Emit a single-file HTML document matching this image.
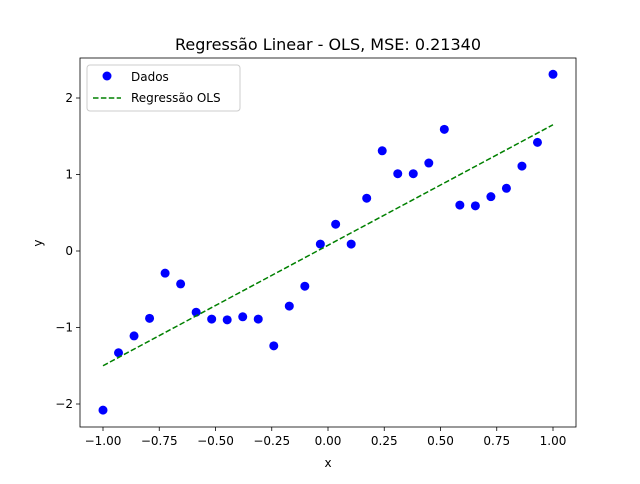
<!DOCTYPE html>
<html><head><meta charset="utf-8"><style>
body{margin:0;background:#fff;font-family:"DejaVu Sans","Liberation Sans",sans-serif;}
svg text{font-family:"DejaVu Sans","Liberation Sans",sans-serif;}
</style></head><body>
<svg id="chart" width="640" height="480" xmlns="http://www.w3.org/2000/svg"></svg>
<script>
const xs = [-1.0,-0.931,-0.862,-0.793,-0.724,-0.655,-0.586,-0.517,-0.448,-0.379,-0.310,-0.241,-0.172,-0.103,-0.034,0.034,0.103,0.172,0.241,0.310,0.379,0.448,0.517,0.586,0.655,0.724,0.793,0.862,0.931,1.0];
const ys = [-2.08,-1.33,-1.11,-0.88,-0.29,-0.43,-0.80,-0.89,-0.90,-0.86,-0.89,-1.24,-0.72,-0.46,0.09,0.35,0.09,0.69,1.31,1.01,1.01,1.15,1.59,0.60,0.59,0.71,0.82,1.11,1.42,2.31];
const lineX = [-1.0, 1.0];
const lineY = [-1.50, 1.65];
const xTicks = [-1.0,-0.75,-0.5,-0.25,0,0.25,0.5,0.75,1.0];
const xTickLabels = ["−1.00","−0.75","−0.50","−0.25","0.00","0.25","0.50","0.75","1.00"];
const yTicks = [-2,-1,0,1,2];
const yTickLabels = ["−2","−1","0","1","2"];

const L=80,R=576,T=58,B=427;
const sx=v=>328+v*225;
const sy=v=>251-v*76.5;
const svg=document.getElementById('chart');
const NS='http://www.w3.org/2000/svg';
function mk(tag,attrs,parent){const e=document.createElementNS(NS,tag);for(const k in attrs)e.setAttribute(k,attrs[k]);(parent||svg).appendChild(e);return e;}

let t=mk('text',{x:328,y:50,'text-anchor':'middle','font-size':'16'});t.textContent='Regressão Linear - OLS, MSE: 0.21340';



xTicks.forEach((v,i)=>{
  const g=mk('g',{});
  
  
  mk('line',{x1:sx(v),x2:sx(v),y1:B,y2:B+4,stroke:'#000','stroke-width':0.8},g);
  const tx=mk('text',{x:sx(v),y:B+18,'text-anchor':'middle','font-size':'12'},g);tx.textContent=xTickLabels[i];
});
yTicks.forEach((v,i)=>{
  const g=mk('g',{});
  
  
  mk('line',{x1:L-4,x2:L,y1:sy(v),y2:sy(v),stroke:'#000','stroke-width':0.8},g);
  const tx=mk('text',{x:L-7,y:sy(v)+4,'text-anchor':'end','font-size':'12'},g);tx.textContent=yTickLabels[i];
});
t=mk('text',{x:328,y:467,'text-anchor':'middle','font-size':'12'});t.textContent='x';


t=mk('text',{x:42,y:243,'text-anchor':'middle','font-size':'12',transform:'rotate(-90 42 243)'});t.textContent='y';



xs.forEach((v,i)=>{
  const c=mk('circle',{cx:sx(v),cy:sy(ys[i]),r:4.5,fill:'#0000ff'});
  
  
});
const ln=mk('line',{x1:sx(lineX[0]),y1:sy(lineY[0]),x2:sx(lineX[1]),y2:sy(lineY[1]),stroke:'#008000','stroke-width':1.5,'stroke-dasharray':'5.5,2.4'});



const fr=mk('rect',{x:L,y:T,width:R-L,height:B-T,fill:'none',stroke:'#000','stroke-width':0.8});



const lg=mk('g',{});


mk('rect',{x:87,y:65,width:153,height:46,rx:3,fill:'#fff','fill-opacity':0.8,stroke:'#ccc','stroke-width':1},lg);
mk('circle',{cx:107,cy:76,r:4.5,fill:'#0000ff'},lg);
let lt=mk('text',{x:131,y:81,'font-size':'12'},lg);lt.textContent='Dados';
mk('line',{x1:93,x2:121,y1:98,y2:98,stroke:'#008000','stroke-width':1.5,'stroke-dasharray':'5.5,2.4'},lg);
lt=mk('text',{x:131,y:102,'font-size':'12'},lg);lt.textContent='Regressão OLS';
</script>
</body></html>
